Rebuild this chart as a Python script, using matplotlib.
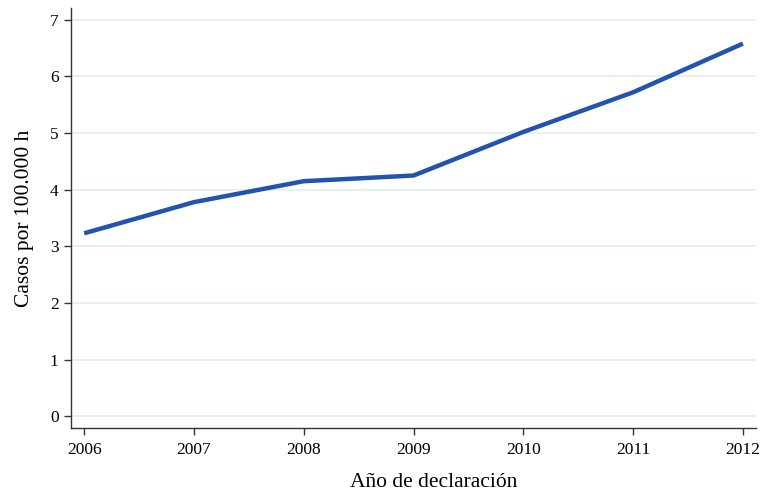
import matplotlib
matplotlib.use('Agg')
import matplotlib.pyplot as plt

years = [2006, 2007, 2008, 2009, 2010, 2011, 2012]
casos = [3.23, 3.78, 4.15, 4.25, 5.02, 5.72, 6.58]
yticks = [0, 1, 2, 3, 4, 5, 6, 7]

plt.rcParams['font.family'] = ['Liberation Serif', 'DejaVu Serif']

fig = plt.figure(figsize=(7.62, 4.96), dpi=100)
ax = fig.add_axes([0.0932, 0.137, 0.899, 0.847])

ax.plot(years, casos, color='#2353b0', linewidth=3.2, solid_capstyle='butt', zorder=3)

ax.set_xlim(2005.88, 2012.12)
ax.set_ylim(-0.21, 7.21)
ax.set_xticks(years)
ax.set_yticks(yticks)
ax.yaxis.grid(True, color='#e3efef', linewidth=1.2)
ax.set_axisbelow(True)

for s in ['top', 'right']:
    ax.spines[s].set_visible(False)
for s in ['left', 'bottom']:
    ax.spines[s].set_color('#333333')
    ax.spines[s].set_linewidth(1.0)
ax.tick_params(axis='both', colors='#333333', labelcolor='black', labelsize=12.5, length=5, width=1)
ax.tick_params(axis='x', pad=5)
ax.tick_params(axis='y', pad=4)

ax.set_xlabel('Año de declaración', fontsize=15.5, labelpad=11, x=0.53)
ax.set_ylabel('Casos por 100.000 h', fontsize=15.5, labelpad=11)

plt.savefig('out.png', dpi=100)
plt.close()
